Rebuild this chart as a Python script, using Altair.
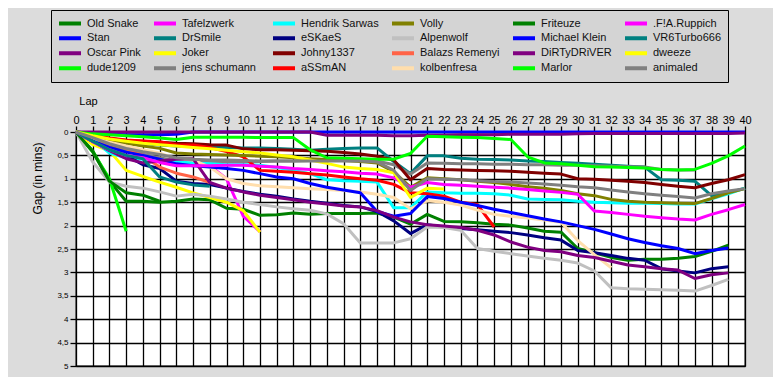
import altair as alt
import pandas as pd

lap_ticks = list(range(0, 41))
gap_ticks = [0, 0.5, 1, 1.5, 2, 2.5, 3, 3.5, 4, 4.5, 5]

names = ["Old Snake", "Stan", "Oscar Pink", "dude1209", "Tafelzwerk", "DrSmile",
         "Joker", "jens  schumann", "Hendrik Sarwas", "eSKaeS", "Johny1337", "aSSmAN",
         "Volly", "Alpenwolf", "Balazs Remenyi", "kolbenfresa", "Friteuze", "Michael Klein",
         "DiRTyDRiVER", "Marlor", ".F!A.Ruppich", "VR6Turbo666", "dweeze", "animaled"]
colors = ["#008000", "#0000FF", "#800080", "#00FF00", "#FF00FF", "#008080",
          "#FFFF00", "#808080", "#00FFFF", "#000080", "#800000", "#FF0000",
          "#808000", "#C0C0C0", "#FF6347", "#FFDEAD", "#008000", "#0000FF",
          "#800080", "#00FF00", "#FF00FF", "#008080", "#FFFF00", "#808080"]

# gap (minutes) per lap, index = lap number
old_snake = [0, 0.4, 1.05, 1.48, 1.48, 1.5, 1.48, 1.43, 1.45, 1.63,
             1.65, 1.78, 1.77, 1.73, 1.76, 1.74, 1.74, 1.74, 1.73, 1.82,
             1.97, 1.76, 1.91, 1.92, 1.94, 1.97, 1.99, 2.05, 2.12, 2.14,
             2.49, 2.58, 2.68, 2.74, 2.72, 2.72, 2.7, 2.66, 2.55, 2.42]
stan = [0, 0.03, 0.05, 0.06, 0.06, 0.06, 0.05, 0, 0, 0,
        0, 0, 0, 0, 0, 0, 0, 0, 0, 0,
        0, 0, 0, 0, 0, 0, 0, 0, 0, 0,
        0, 0, 0, 0, 0, 0, 0, 0, 0, 0,
        0]
oscar_pink = [0, 0, 0, 0, 0, 0, 0, 0, 0, 0,
              0, 0, 0, 0, 0, 0.07, 0.07, 0.07, 0.07, 0.08,
              0.08, 0.07, 0.07, 0.06, 0.06, 0.06, 0.05, 0.05, 0.05, 0.05,
              0.04, 0.03, 0.03, 0.03, 0.03, 0.03, 0.03, 0.03, 0.03, 0.03,
              0.02]
dude1209 = [0, 0.42, 1.0, 2.12]
tafelzwerk = [0, 0.15, 0.28, 0.38, 0.48, 0.58, 0.7, 0.7, 0.72, 1.0, 1.8, 2.13]
drsmile = [0, 0.1, 0.17, 0.22, 0.25, 0.28, 0.3, 0.31, 0.32, 0.33,
           0.34, 0.34, 0.35, 0.37, 0.39, 0.37, 0.35, 0.34, 0.34, 0.63,
           0.89, 0.51, 0.51, 0.56, 0.58, 0.59, 0.6, 0.62, 0.63, 0.65,
           0.67, 0.69, 0.71, 0.73, 0.75, 1.02, 1.03, 1.05, 1.36, 1.3,
           1.2]
joker = [0, 0.27, 0.4, 0.82, 0.95, 1.07, 1.18, 1.3, 1.4, 1.5, 1.68, 2.14]
jens = [0, 0.15, 0.3, 0.4, 0.48, 0.55, 0.62, 0.63, 0.64, 0.64,
        0.64, 0.63, 0.62, 0.62, 0.61, 0.6, 0.6, 0.6, 0.62, 0.7,
        0.9, 0.66, 0.67, 0.68, 0.68, 0.69, 0.69, 0.7, 0.7, 0.71,
        0.71, 0.72, 0.73, 0.74, 0.75, 0.8, 0.81, 0.81]
hendrik = [0, 0.15, 0.45, 0.55, 0.58, 0.6, 0.63, 0.66, 0.68, 0.7,
           0.7, 0.71, 0.76, 0.82, 0.89, 1.02, 1.04, 1.05, 1.07, 1.62,
           1.62, 1.28, 1.3, 1.31, 1.31, 1.32, 1.35, 1.43, 1.44, 1.45,
           1.48, 1.5, 1.51, 1.52, 1.52, 1.53, 1.54, 1.54, 1.43, 1.32,
           1.2]
eskaes = [0, 0.2, 0.35, 0.5, 0.7, 0.78, 1.05, 1.1, 1.12, 1.2,
          1.27, 1.33, 1.37, 1.43, 1.48, 1.52, 1.57, 1.6, 1.7, 1.9,
          2.17, 1.98, 2.03, 2.06, 2.09, 2.12, 2.15, 2.2, 2.26, 2.31,
          2.53, 2.58, 2.64, 2.7, 2.74, 2.92, 2.97, 3.01, 2.92, 2.88]
johny = [0, 0.08, 0.14, 0.18, 0.2, 0.22, 0.24, 0.25, 0.27, 0.28,
         0.36, 0.38, 0.38, 0.39, 0.4, 0.41, 0.44, 0.47, 0.52, 0.6,
         1.02, 0.78, 0.8, 0.81, 0.82, 0.83, 0.84, 0.86, 0.88, 0.9,
         1.0, 1.01, 1.03, 1.05, 1.08, 1.12, 1.16, 1.19, 1.1, 1.02,
         0.91]
assman = [0, 0.07, 0.13, 0.17, 0.19, 0.21, 0.27, 0.28, 0.33, 0.42,
          0.53, 0.82, 0.84, 0.86, 0.89, 0.92, 0.96, 1.0, 1.03, 1.12,
          1.3, 1.32, 1.37, 1.5, 1.55, 2.03]
volly = [0, 0.1, 0.18, 0.24, 0.3, 0.35, 0.45, 0.47, 0.48, 0.49,
         0.5, 0.52, 0.53, 0.55, 0.57, 0.59, 0.61, 0.63, 0.66, 0.85,
         1.18, 0.98, 1.0, 1.02, 1.05, 1.08, 1.12, 1.17, 1.2, 1.25,
         1.32, 1.36, 1.44, 1.48, 1.5, 1.51, 1.52, 1.53, 1.42, 1.3,
         1.21]
alpenwolf = [0, 0.64, 1.07, 1.16, 1.2, 1.28, 1.37, 1.33, 1.37, 1.43,
             1.5, 1.55, 1.6, 1.64, 1.67, 1.75, 1.96, 2.37, 2.37, 2.37,
             2.28, 2.03, 2.04, 2.1, 2.49, 2.55, 2.6, 2.65, 2.7, 2.74,
             2.8, 2.97, 3.33, 3.35, 3.36, 3.37, 3.38, 3.4, 3.28, 3.15]
balazs = [0, 0.12, 0.25, 0.35, 0.5, 0.75, 0.88, 0.96, 1.08]
kolbenfresa = [0, 0.12, 0.22, 0.3, 0.38, 0.45, 0.57, 0.6, 0.75, 1.0,
               1.1, 1.15, 1.17, 1.19, 1.21, 1.23, 1.25, 1.28, 1.33, 1.4,
               1.64, 1.47, 1.5, 1.56, 1.67, 1.76, 1.8, 1.84, 1.88, 1.93,
               2.32, 2.62, 2.9]
friteuze = [0, 0.42, 1.05, 1.3, 1.35, 1.48]
michael = [0, 0.2, 0.33, 0.43, 0.5, 0.58, 0.68, 0.72, 0.75, 0.78,
           0.82, 0.89, 0.96, 1.0, 1.1, 1.18, 1.24, 1.3, 1.7, 1.8,
           1.74, 1.38, 1.42, 1.5, 1.57, 1.65, 1.72, 1.79, 1.86, 1.92,
           2.0, 2.08, 2.18, 2.28, 2.36, 2.43, 2.49, 2.6, 2.53, 2.48]
dirty = [0, 0.2, 0.4, 0.57, 0.66, 0.62, 0.58, 0.57, 1.08, 1.2,
         1.28, 1.35, 1.4, 1.45, 1.5, 1.54, 1.58, 1.6, 1.68, 1.82,
         1.92, 1.98, 2.01, 2.04, 2.1, 2.2, 2.35, 2.46, 2.53, 2.56,
         2.64, 2.68, 2.76, 2.84, 2.88, 2.92, 2.95, 3.13, 3.05, 3.01]
marlor = [0, 0.04, 0.06, 0.08, 0.1, 0.13, 0.16, 0.11, 0.11, 0.11,
          0.11, 0.12, 0.12, 0.12, 0.38, 0.55, 0.56, 0.57, 0.58, 0.58,
          0.46, 0.09, 0.1, 0.11, 0.12, 0.14, 0.16, 0.53, 0.66, 0.68,
          0.71, 0.74, 0.75, 0.76, 0.77, 0.8, 0.81, 0.8, 0.67, 0.51,
          0.3]
ruppich = [0, 0.21, 0.38, 0.5, 0.55, 0.65, 0.72, 0.72, 0.72, 0.71,
           0.71, 0.73, 0.75, 0.78, 0.8, 0.83, 0.85, 0.88, 0.9, 0.98,
           1.18, 1.08, 1.12, 1.14, 1.16, 1.18, 1.2, 1.23, 1.26, 1.29,
           1.33, 1.69, 1.72, 1.76, 1.8, 1.83, 1.86, 1.88, 1.76, 1.66,
           1.55]
vr6 = [0, 0.2, 0.38, 0.5, 0.57, 0.96, 1.07, 1.13, 1.16]
dweeze = [0, 0.08, 0.15, 0.2, 0.24, 0.27, 0.3, 0.33, 0.36, 0.39,
          0.42, 0.45, 0.49, 0.53, 0.6, 0.67, 0.75, 0.78, 0.8, 0.87,
          1.4, 1.2, 1.22]
animaled = [0, 0.12, 0.25, 0.35, 0.42, 0.48, 0.55, 0.58, 0.6, 0.6,
            0.61, 0.62, 0.62, 0.62, 0.62, 0.62, 0.62, 0.62, 0.64, 0.82,
            1.25, 1.0, 1.01, 1.02, 1.04, 1.06, 1.07, 1.09, 1.11, 1.14,
            1.17, 1.19, 1.24, 1.28, 1.32, 1.35, 1.38, 1.41, 1.32, 1.26,
            1.21]

series = [old_snake, stan, oscar_pink, dude1209, tafelzwerk, drsmile, joker, jens,
          hendrik, eskaes, johny, assman, volly, alpenwolf, balazs, kolbenfresa,
          friteuze, michael, dirty, marlor, ruppich, vr6, dweeze, animaled]

rows = []
for name, vals in zip(names, series):
    for lap, g in enumerate(vals):
        rows.append({"driver": name, "lap": lap, "gap": g})
df = pd.DataFrame(rows)

FONT = "Liberation Sans"

chart = alt.Chart(df).mark_line(strokeWidth=3, strokeJoin="round").encode(
    x=alt.X("lap:Q",
            scale=alt.Scale(domain=[0, 40], nice=False, zero=False),
            axis=alt.Axis(orient="top", values=lap_ticks, grid=True, gridColor="black",
                          gridWidth=1.3, gridOpacity=1, domain=False, tickColor="black",
                          tickSize=6, tickWidth=1.3, labelFontSize=11, labelFont=FONT,
                          labelColor="black", labelPadding=1, labelAngle=0, labelFlush=False,
                          labelOverlap=False, title="Lap", titleFont=FONT, titleFontSize=11,
                          titleFontWeight="normal", titleColor="black", titleX=12, titleY=-31,
                          titleAlign="center", titleBaseline="middle")),
    y=alt.Y("gap:Q",
            scale=alt.Scale(domain=[0, 5], reverse=True, nice=False, zero=False),
            axis=alt.Axis(values=gap_ticks,
                          labelExpr="replace(toString(datum.value), '.', ',')",
                          grid=True, gridColor="black", gridWidth=1.3, gridOpacity=1,
                          domain=False, tickColor="black", tickSize=6, tickWidth=1.3,
                          labelFontSize=8, labelFont=FONT, labelColor="black", labelPadding=2,
                          labelFlush=False, labelOverlap=False,
                          title="Gap (in mins)", titleFont=FONT, titleFontSize=12,
                          titleFontWeight="normal", titleColor="black", titleX=-39, titleY=46,
                          titleAlign="center", titleBaseline="middle")),
    color=alt.Color("driver:N",
                    scale=alt.Scale(domain=names, range=colors),
                    legend=alt.Legend(title=None, orient="none", legendX=-25, legendY=-122,
                                      columns=6, symbolType="stroke", symbolSize=484,
                                      symbolStrokeWidth=4, clipHeight=14.3, rowPadding=0,
                                      columnPadding=11, labelFont=FONT, labelFontSize=11,
                                      labelColor="#111111", labelOffset=4, padding=6,
                                      strokeColor="black", fillColor="#d4d4d4",
                                      labelLimit=200)),
).properties(
    width=669, height=234,
    padding={"left": 68, "top": 124, "right": 28, "bottom": 11},
    autosize=alt.AutoSizeParams(type="none"),
    background="#dcdcdc",
).configure_view(fill="white", stroke="black", strokeWidth=1.3)

chart.save("out.html", embed_options={"renderer": "svg", "actions": False})
